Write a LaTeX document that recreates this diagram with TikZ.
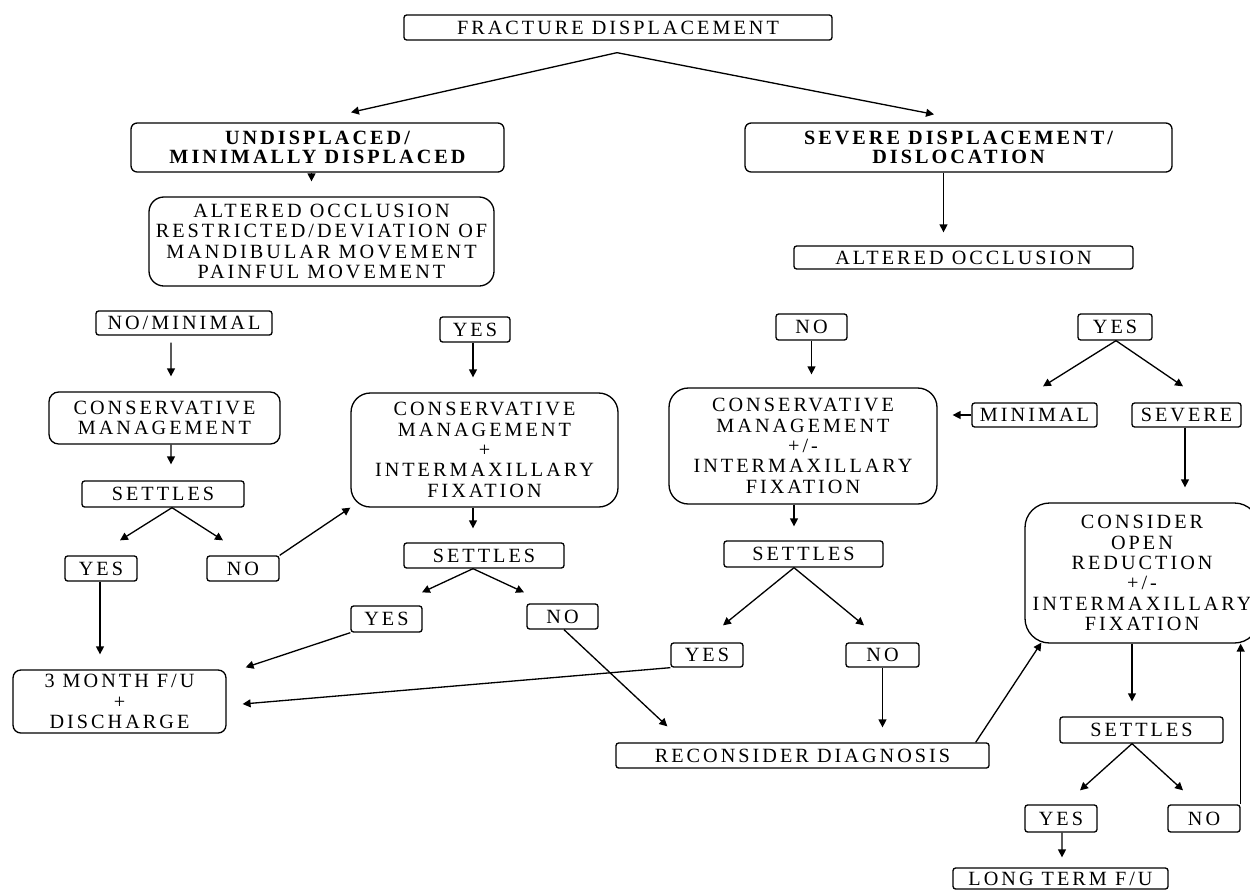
\documentclass[tikz,border=0pt]{standalone}
\usepackage{fontspec}
\setmainfont{Liberation Serif}[LetterSpace=15]
\usetikzlibrary{arrows.meta,calc}

\begin{document}
\begin{tikzpicture}[x=0.02cm, y=-0.02cm, line width=0.75pt, line join=round, >={Triangle[length=4.5pt,width=4.5pt]},
	font=\fontsize{11.5}{11.6}\selectfont,
	box/.style={draw, inner sep=0pt, align=center, rounded corners=1.5pt},
	rbox/.style={box, rounded corners=#1},
	wh/.style 2 args={minimum width=#1*0.02cm, minimum height=#2*0.02cm},
	hd/.style={font=\fontsize{11.5}{10.8}\selectfont\bfseries}]
	\useasboundingbox (0,0) rectangle (1250,890);
	\clip (0,0) rectangle (1250,890);
	\node[box, wh={428}{25}] (fd) at (618,27.5) {FRACTURE DISPLACEMENT};
	\node[rbox=3.5pt, hd, wh={373}{49}] (und) at (317.5,147.5) {UNDISPLACED/\\MINIMALLY DISPLACED};
	\node[rbox=3.5pt, hd, wh={427}{49}] (sev) at (958.5,147.5) {SEVERE DISPLACEMENT/\\DISLOCATION};
	\node[rbox=8.5pt, wh={345}{89}] (alt1) at (321.5,241.5) {ALTERED OCCLUSION\\RESTRICTED/DEVIATION OF\\MANDIBULAR MOVEMENT\\PAINFUL MOVEMENT};
	\node[box, wh={339}{23}] (alt2) at (963.5,257.5) {ALTERED OCCLUSION};
	\node[box, wh={176}{24}] (nomin) at (184,323) {NO/MINIMAL};
	\node[box, wh={70}{25}] (yes1) at (475,329.5) {YES};
	\node[box, wh={71}{26}] (no1) at (811.5,327) {NO};
	\node[box, wh={74}{26}] (yes2) at (1115,327) {YES};
	\node[rbox=5.5pt, wh={231}{52}] (cm1) at (164.5,418) {CONSERVATIVE\\MANAGEMENT};
	\node[rbox=11pt, wh={267}{114}] (cmf) at (484.5,450) {CONSERVATIVE\\MANAGEMENT\\+\\INTERMAXILLARY\\FIXATION};
	\node[rbox=11pt, wh={268}{116}] (cmpm) at (803,446) {CONSERVATIVE\\MANAGEMENT\\+/-\\INTERMAXILLARY\\FIXATION};
	\node[box, wh={125}{24}] (mini) at (1034.5,415) {MINIMAL};
	\node[box, wh={109}{24}] (sevr) at (1186.5,415) {SEVERE};
	\node[rbox=14pt, wh={234}{140}] (cons) at (1142,573) {CONSIDER\\OPEN\\REDUCTION\\+/-\\INTERMAXILLARY\\FIXATION};
	\node[box, wh={162}{26}] (set1) at (163,494) {SETTLES};
	\node[box, wh={160}{25}] (set2) at (484,555.5) {SETTLES};
	\node[box, wh={159}{26}] (set3) at (803.5,554) {SETTLES};
	\node[box, wh={72}{25}] (yes3) at (101,568.5) {YES};
	\node[box, wh={72}{25}] (no3) at (243,568.5) {NO};
	\node[box, wh={71}{26}] (yes4) at (386.5,619) {YES};
	\node[box, wh={71}{25}] (no4) at (562.5,616.5) {NO};
	\node[box, wh={72}{24}] (yes5) at (707,655) {YES};
	\node[box, wh={73}{24}] (no5) at (882.5,655) {NO};
	\node[rbox=4.5pt, wh={213}{63}] (mon) at (119.5,701.5) {3 MONTH F/U\\+\\DISCHARGE};
	\node[box, wh={373}{25}] (rec) at (802.5,755.5) {RECONSIDER DIAGNOSIS};
	\node[box, wh={163}{26}] (set4) at (1141.5,730) {SETTLES};
	\node[box, wh={72}{27}] (yes6) at (1061,818.5) {YES};
	\node[box, wh={72}{27}] (no6) at (1204,818.5) {NO};
	\node[box, wh={215}{21}] (lt) at (1060.5,878.5) {LONG TERM F/U};

	\coordinate (split) at ($(fd.south)+(-1,12)$);
	\draw[->] (split) -- ($(und.north)+(33.5,-10)$);
	\draw[->] (split) -- ($(sev.north)+(-24.5,-8)$);
	\draw[->] ($(und.south)+(-6,0)$) -- ($(alt1.north)+(-10,-15)$);
	\draw[->] ($(sev.south)+(-15,0)$) -- ($(alt2.north)+(-20,-13)$);
	\draw[->] ($(nomin.south)+(-13,7)$) -- ($(cm1.north)+(6.5,-15)$);
	\draw[->] ($(yes1.south)+(-2,0)$) -- ($(cmf.north)+(-11.5,-15)$);
	\draw[->] (no1.south) -- ($(cmpm.north)+(8.5,-13)$);
	\draw[->] ($(yes2.south)+(1,0)$) -- ($(mini.north)+(8.5,-16)$);
	\draw[->] ($(yes2.south)+(1,0)$) -- ($(sevr.north)+(-3.5,-16)$);
	\draw[->, shorten >=8.5pt] (mini.west) -- (mini.west -| cmpm.east);
	\draw[->] ($(sevr.south)+(-1.5,0)$) -- ($(cons.north)+(43,-15)$);
	\draw[->] ($(cm1.south)+(6.5,0)$) -- ($(set1.north)+(8,-16)$);
	\draw[->] ($(cmf.south)+(-11.5,0)$) -- ($(set2.north)+(-11,-14)$);
	\draw[->] ($(cmpm.south)+(-9,0)$) -- ($(set3.north)+(-9.5,-14)$);
	\draw[->] ($(set1.south)+(9,0)$) -- ($(yes3.north)+(19,-15)$);
	\draw[->] ($(set1.south)+(9,0)$) -- ($(no3.north)+(-20,-15)$);
	\draw[->] (no3.north east) -- (cmf.south west);
	\draw[->] ($(set2.south)+(-11,0)$) -- ($(yes4.north)+(35.5,-13)$);
	\draw[->] ($(set2.south)+(-11,0)$) -- ($(no4.north)+(-38.5,-11)$);
	\draw[->] ($(set3.south)+(-9.5,0)$) -- ($(yes5.north)+(16,-17)$);
	\draw[->] ($(set3.south)+(-9.5,0)$) -- ($(no5.north)+(-18.5,-17)$);
	\draw[->] ($(yes3.south)+(-1,0)$) -- ($(mon.north)+(-19.5,-15)$);
	\draw[->] (yes4.south west) -- ($(mon.north east)+(19,-2)$);
	\draw[->] (yes5.south west) -- ($(mon.east)+(16,2.5)$);
	\draw[->] ($(no4.south)+(1.5,0)$) -- ($(rec.north west)+(52,-16)$);
	\draw[->] (no5.south) -- ($(no5.south |- rec.north)+(0,-15)$);
	\draw[->] ($(rec.north east)+(-14,0)$) -- ($(cons.south west)+(17,-1)$);
	\draw[->] ($(cons.south)+(-10,0)$) -- ($(set4.north)+(-9.5,-15)$);
	\draw[->] ($(set4.south)+(-9.5,0)$) -- ($(yes6.north)+(19,-14)$);
	\draw[->] ($(set4.south)+(-9.5,0)$) -- ($(no6.north)+(-21,-14)$);
	\draw[->] ($(yes6.south)+(1,0)$) -- ($(lt.north)+(1.5,-10)$);
	\draw[->] (no6.north east) -- (no6.north east |- cons.south);
\end{tikzpicture}
\end{document}
